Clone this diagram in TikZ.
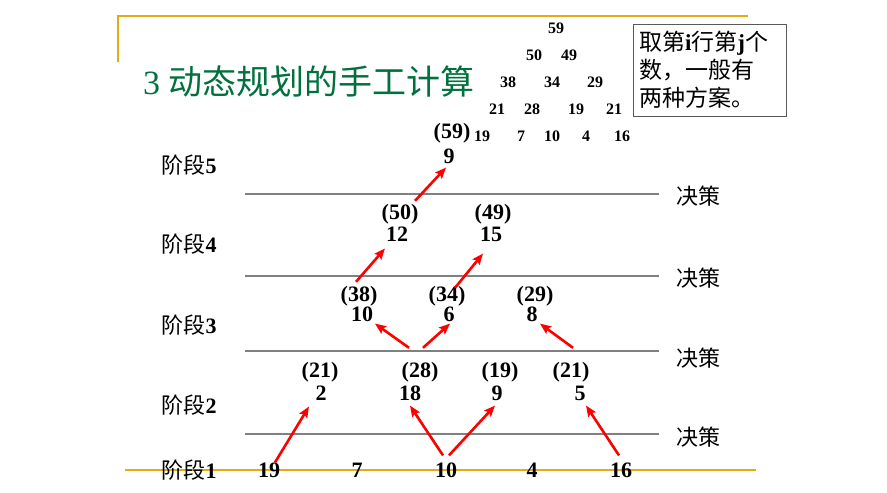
\documentclass[tikz,border=0pt]{standalone}
\usepackage{fontspec}
\setmainfont{Liberation Serif}
\newfontfamily\cjk{Noto Sans CJK SC}
\usetikzlibrary{arrows.meta}
\definecolor{titlegreen}{RGB}{0,112,60}
\definecolor{rulegold}{RGB}{229,170,20}
\definecolor{stagegray}{RGB}{128,128,128}

\begin{document}
\begin{tikzpicture}[x=1pt,y=-1pt,
  every node/.style={inner sep=0pt},
  num/.style={font=\fontsize{22}{24}\selectfont\bfseries},
  tri/.style={font=\fontsize{16}{18}\selectfont\bfseries},
  lab/.style={font=\fontsize{22}{24}\selectfont},
  sep/.style={stagegray, line width=2pt},
  gold/.style={rulegold, line width=2pt},
  arr/.style={red, line width=2.6pt, -{Stealth[length=11pt,width=9pt,inset=2pt]}}]
\useasboundingbox (0,0) rectangle (887,493);
% frame
\draw[gold] (118,62) -- (118,16) -- (748,16);
\draw[gold] (125,470) -- (756,470);
\node[anchor=west, text=titlegreen, font=\fontsize{34}{36}\selectfont] (title) at (143,82) {3 {\cjk 动态规划的手工计算}};

% triangle of data
\node[tri] (t59) at (556,28) {59};
\node[tri] (t50) at (534,55) {50};
\node[tri] (t49) at (569,55) {49};
\node[tri] (t38) at (508,82) {38};
\node[tri] (t34) at (552,82) {34};
\node[tri] (t29) at (595,82) {29};
\node[tri] (t21a) at (497,109) {21};
\node[tri] (t28) at (532,109) {28};
\node[tri] (t19) at (576,109) {19};
\node[tri] (t21b) at (614,109) {21};
\node[tri] (t19b) at (482,136) {19};
\node[tri] (t7) at (521,136) {7};
\node[tri] (t10) at (552,136) {10};
\node[tri] (t4) at (586,136) {4};
\node[tri] (t16) at (622,136) {16};

\node[draw=black!65, line width=1pt, inner xsep=6pt, minimum width=153pt, minimum height=92pt,
  text width=141pt, align=left, font=\fontsize{23}{28}\selectfont] (note) at (709.5,70)
  {{\cjk 取第}\textbf{i}{\cjk 行第}\textbf{j}{\cjk 个}\\{\cjk 数，一般有}\\{\cjk 两种方案。}};

% stages
\foreach \y in {194,276,351,434}
  \draw[sep] (245,\y) -- (659,\y);
\node[lab] (dec4) at (698,196) {\cjk 决策};
\node[lab] (dec3) at (698,278) {\cjk 决策};
\node[lab] (dec2) at (698,358) {\cjk 决策};
\node[lab] (dec1) at (698,437) {\cjk 决策};
\node[lab] (stage5) at (189,165) {{\cjk 阶段}\textbf{5}};
\node[lab] (stage4) at (189,244) {{\cjk 阶段}\textbf{4}};
\node[lab] (stage3) at (189,325) {{\cjk 阶段}\textbf{3}};
\node[lab] (stage2) at (189,405) {{\cjk 阶段}\textbf{2}};
\node[lab] (stage1) at (189,470) {{\cjk 阶段}\textbf{1}};

\node[num] (f51) at (452,133) {(59)};
\node[num] (n51) at (449,156) {9};
\node[num] (f41) at (400,214) {(50)};
\node[num] (n41) at (397,234) {12};
\node[num] (f42) at (493,214) {(49)};
\node[num] (n42) at (491,234) {15};
\node[num] (f31) at (359,296) {(38)};
\node[num] (n31) at (362,314) {10};
\node[num] (f32) at (447,296) {(34)};
\node[num] (n32) at (449,314) {6};
\node[num] (f33) at (535,296) {(29)};
\node[num] (n33) at (532,314) {8};
\node[num] (f21) at (320,372) {(21)};
\node[num] (n21) at (321,393) {2};
\node[num] (f22) at (420,372) {(28)};
\node[num] (n22) at (410,393) {18};
\node[num] (f23) at (500,372) {(19)};
\node[num] (n23) at (497,393) {9};
\node[num] (f24) at (571,372) {(21)};
\node[num] (n24) at (580,393) {5};
\node[num] (n11) at (269,470) {19};
\node[num] (n12) at (357,470) {7};
\node[num] (n13) at (446,470) {10};
\node[num] (n14) at (532,470) {4};
\node[num] (n15) at (621,470) {16};

% decisions
\draw[arr] ([xshift=6pt]n11.north) -- ([xshift=-12pt,yshift=-6pt]n21.south);
\draw[arr] ([xshift=-3pt,yshift=7pt]n13.north) -- ([yshift=-5pt]n22.south);
\draw[arr] ([xshift=3pt,yshift=7pt]n13.north) -- ([xshift=-2pt,yshift=-5pt]n23.south);
\draw[arr] ([xshift=-2pt,yshift=7pt]n15.north) -- ([xshift=6pt,yshift=-5pt]n24.south);
\draw[arr] ([xshift=-11pt,yshift=14pt]f22.north) -- ([xshift=13pt,yshift=-2pt]n31.south);
\draw[arr] ([xshift=3pt,yshift=14pt]f22.north) -- ([xshift=1pt,yshift=-2pt]n32.south);
\draw[arr] ([xshift=2pt,yshift=14pt]f24.north) -- ([xshift=8pt,yshift=-2pt]n33.south);
\draw[arr] ([xshift=-3pt,yshift=4pt]f31.north) -- ([xshift=-12pt,yshift=-7pt]n41.south);
\draw[arr] ([xshift=8pt,yshift=-2pt]f32.north) -- ([xshift=-8pt,yshift=-12pt]n42.south);
\draw[arr] ([xshift=15pt,yshift=3pt]f41.north) -- ([xshift=-3pt,yshift=-4pt]n51.south);
\end{tikzpicture}
\end{document}
